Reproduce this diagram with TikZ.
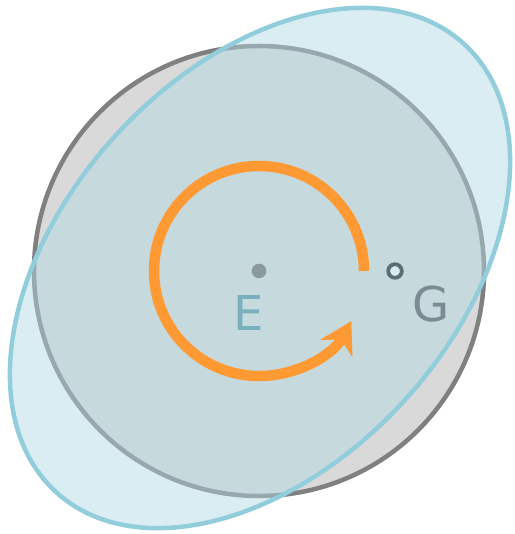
\documentclass[tikz,border=0pt]{standalone}
\usepackage{fontspec}
\setmainfont{DejaVu Sans}
\usetikzlibrary{arrows.meta}
\definecolor{ringgray}{HTML}{808080}
\definecolor{diskgray}{HTML}{D9D9D9}
\definecolor{ellfill}{RGB}{177,217,227}
\definecolor{ellline}{HTML}{92CDDC}
\definecolor{arrorange}{HTML}{FF9933}
\definecolor{dotgray}{HTML}{89999E}
\definecolor{Ecol}{HTML}{78B0C0}
\definecolor{Gcol}{HTML}{7A8C91}
\definecolor{ringdark}{HTML}{5C6E73}
\definecolor{ringfill}{HTML}{D6ECF3}
\tikzset{lbl/.style={inner sep=0pt, font=\fontsize{48}{48}\selectfont}}
\begin{document}
\begin{tikzpicture}[x=1pt,y=1pt]
\useasboundingbox (0,0) rectangle (514,534);
\coordinate (c) at (259,263);
\fill[diskgray] (c) circle[radius=227pt];
\draw[ringgray, line width=4.5pt] (c) circle[radius=225pt];
\coordinate (ec) at (260,266);
\fill[ellfill, fill opacity=0.47, rotate around={47.75:(ec)}] (ec) ellipse[x radius=303pt, y radius=196pt];
\draw[ellline, line width=4.5pt, rotate around={47.75:(ec)}] (ec) ellipse[x radius=303pt, y radius=196pt];
\draw[arrorange, line width=10.5pt, -{Stealth[length=31pt, width=36pt, inset=10pt]}]
  (364,263) arc[start angle=0, end angle=331.5, radius=105pt];
\fill[dotgray] (c) circle[radius=7.3pt] node[coordinate] (Edot) {};
\draw[ringdark, fill=ringfill, line width=3.8pt] (395,263) circle[radius=6.8pt] node[coordinate] (Gring) {};
\node[lbl, text=Ecol] (E) at (249,220.5) {E};
\node[lbl, text=Gcol] (G) at (431.5,229.5) {G};
\end{tikzpicture}
\end{document}
